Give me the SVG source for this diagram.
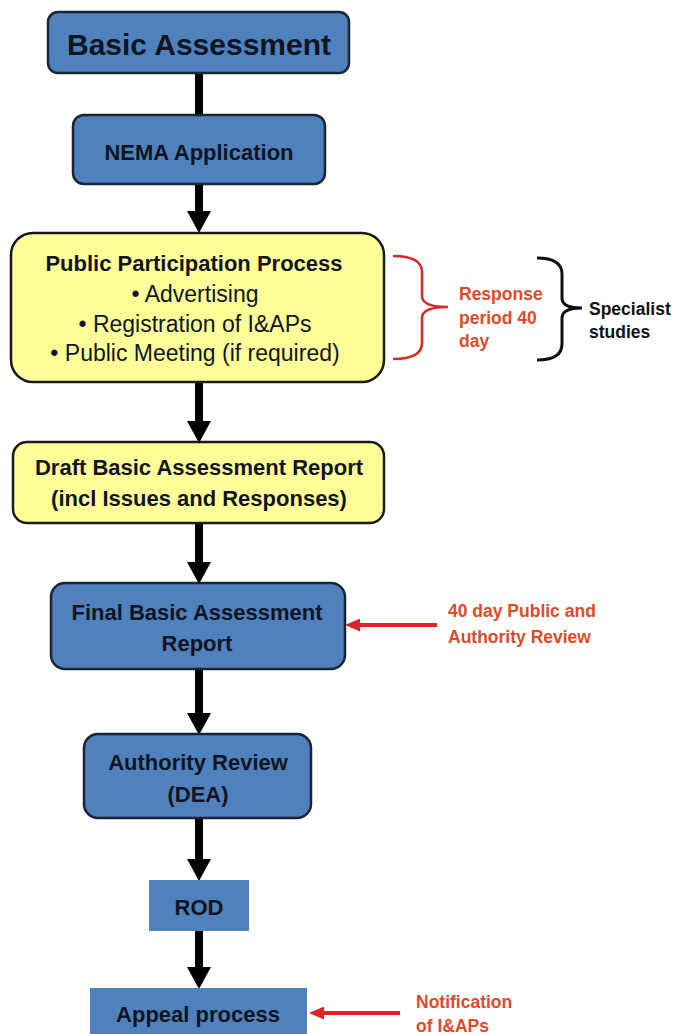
<svg xmlns="http://www.w3.org/2000/svg" width="677" height="1034" viewBox="0 0 677 1034">
<defs>
<style>
.blue{fill:#4f81bd;stroke:#1b2335;stroke-width:2.5}
.blueflat{fill:#4f81bd;stroke:none}
.yellow{fill:#ffff99;stroke:#1a1a1a;stroke-width:2.5}
.t{font-family:"Liberation Sans",Arial,sans-serif;text-anchor:middle;fill:#111522}
.b{font-weight:bold;font-size:22px}
.r{font-size:23px}
.red{font-family:"Liberation Sans",Arial,sans-serif;font-weight:bold;font-size:17.5px;fill:#e04a2a}
.note{font-family:"Liberation Sans",Arial,sans-serif;font-weight:bold;font-size:17.5px;fill:#111}
.shaft{stroke:#000;stroke-width:8;fill:none}
.rshaft{stroke:#e0232b;stroke-width:4;fill:none}
</style>
<marker id="ah" markerUnits="userSpaceOnUse" markerWidth="22" markerHeight="24" refX="9" refY="12" orient="auto" viewBox="0 0 22 24">
<path d="M0,0 L22,12 L0,24 Z" fill="#000"/>
</marker>
<marker id="rh" markerUnits="userSpaceOnUse" markerWidth="15" markerHeight="13" refX="6" refY="6.5" orient="auto" viewBox="0 0 15 13">
<path d="M0,0 L15,6.5 L0,13 Z" fill="#e0232b"/>
</marker>
</defs>
<rect width="677" height="1034" fill="#fff"/>

<g id="connectors">
<line class="shaft" x1="199" y1="73" x2="199" y2="115"/>
<line class="shaft" x1="199" y1="184" x2="199" y2="220" marker-end="url(#ah)"/>
<line class="shaft" x1="199" y1="382" x2="199" y2="430" marker-end="url(#ah)"/>
<line class="shaft" x1="199" y1="523" x2="199" y2="571" marker-end="url(#ah)"/>
<line class="shaft" x1="199" y1="669" x2="199" y2="722" marker-end="url(#ah)"/>
<line class="shaft" x1="199" y1="818" x2="199" y2="868" marker-end="url(#ah)"/>
<line class="shaft" x1="199" y1="931" x2="199" y2="976" marker-end="url(#ah)"/>
<line class="rshaft" x1="437" y1="625" x2="354" y2="625" marker-end="url(#rh)"/>
<line class="rshaft" x1="400" y1="1013" x2="318" y2="1013" marker-end="url(#rh)"/>
<path d="M393,256 Q422,256 422,272 L422,296 Q422,307 448,307 Q422,307 422,318 L422,343 Q422,359 393,359" fill="none" stroke="#d42a2a" stroke-width="2.5"/>
<path d="M537,258 Q562,258 562,274 L562,298 Q562,308 582,308 Q562,308 562,318 L562,344 Q562,360 537,360" fill="none" stroke="#111" stroke-width="3"/>
</g>

<g id="basic-assessment">
<rect class="blue" x="48" y="12" width="301" height="61" rx="10"/>
<text class="t" x="199" y="55" font-weight="bold" font-size="30">Basic Assessment</text>
</g>

<g id="nema">
<rect class="blue" x="73" y="115" width="252" height="69" rx="11"/>
<text class="t b" x="199" y="160">NEMA Application</text>
</g>

<g id="ppp">
<rect class="yellow" x="11" y="233" width="373" height="149" rx="22"/>
<text class="t b" x="194" y="271" font-size="21">Public Participation Process</text>
<text class="t r" x="195" y="302">• Advertising</text>
<text class="t r" x="195" y="332">• Registration of I&amp;APs</text>
<text class="t r" x="195" y="361">• Public Meeting (if required)</text>
</g>

<g id="response-note">
<text class="red" x="459" y="300">Response</text>
<text class="red" x="459" y="324">period 40</text>
<text class="red" x="459" y="347">day</text>
</g>

<g id="specialist-note">
<text class="note" x="589" y="315">Specialist</text>
<text class="note" x="589" y="338">studies</text>
</g>

<g id="draft">
<rect class="yellow" x="13" y="442" width="371" height="81" rx="14"/>
<text class="t b" x="199" y="475">Draft Basic Assessment Report</text>
<text class="t b" x="199" y="506">(incl Issues and Responses)</text>
</g>

<g id="final">
<rect class="blue" x="51" y="583" width="294" height="86" rx="14"/>
<text class="t b" x="197" y="620">Final Basic Assessment</text>
<text class="t b" x="197" y="651">Report</text>
</g>

<g id="review-note">
<text class="red" x="448" y="617">40 day Public and</text>
<text class="red" x="448" y="643">Authority Review</text>
</g>

<g id="authority">
<rect class="blue" x="84" y="734" width="227" height="84" rx="14"/>
<text class="t b" x="198" y="770">Authority Review</text>
<text class="t b" x="198" y="802">(DEA)</text>
</g>

<g id="rod">
<rect class="blueflat" x="149" y="880" width="100" height="51"/>
<text class="t b" x="199" y="915">ROD</text>
</g>

<g id="appeal">
<rect class="blueflat" x="90" y="988" width="217" height="52"/>
<text class="t b" x="198" y="1022">Appeal process</text>
</g>

<g id="notification-note">
<text class="red" x="416" y="1008">Notification</text>
<text class="red" x="416" y="1032">of I&amp;APs</text>
</g>
</svg>
